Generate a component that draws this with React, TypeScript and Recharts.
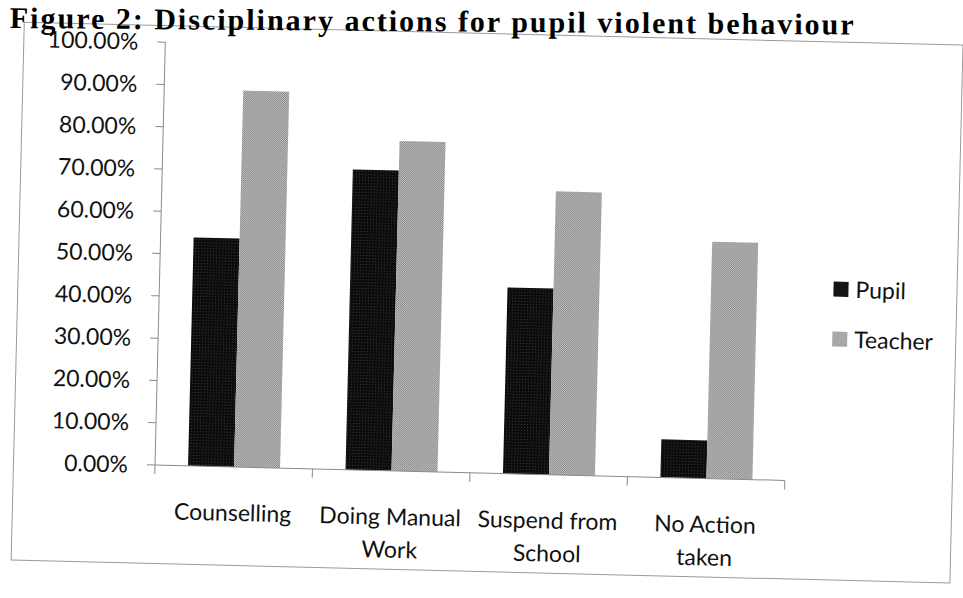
import React from 'react';
import { BarChart, Bar, XAxis, YAxis } from 'recharts';

const categories = ['Counselling', 'Doing Manual\nWork', 'Suspend from\nSchool', 'No Action\ntaken'];
const pupil = [0.54, 0.71, 0.44, 0.09];
const teacher = [0.89, 0.78, 0.67, 0.56];
const yTicks = [0, 0.1, 0.2, 0.3, 0.4, 0.5, 0.6, 0.7, 0.8, 0.9, 1.0];
const seriesNames = ['Pupil', 'Teacher'];
const title = 'Figure 2: Disciplinary actions for pupil violent behaviour';

const data = categories.map((c, i) => ({ name: c, pupil: pupil[i], teacher: teacher[i] }));

const W = 963;
const H = 598;
const M = { top: 42, right: 178, bottom: 33, left: 0 };
const Y_W = 155;
const X_H = 100;
const PLOT_BOTTOM = H - M.bottom - X_H;
const BAND = (W - M.right - M.left - Y_W) / categories.length;
const FONT = 'Lato, "Open Sans", sans-serif';

const CategoryTick = (props: any) => {
  const { x, payload, index } = props;
  const lines = String(payload.value).split('\n');
  const half = BAND / 2;
  return (
    <g>
      <line x1={x - half} x2={x - half} y1={PLOT_BOTTOM} y2={PLOT_BOTTOM + 9} stroke="#8a8a8a" />
      {index === categories.length - 1 && (
        <line x1={x + half} x2={x + half} y1={PLOT_BOTTOM} y2={PLOT_BOTTOM + 9} stroke="#8a8a8a" />
      )}
      <text textAnchor="middle" fontFamily={FONT} fontSize={23} fill="#111">
        {lines.map((l, i) => (
          <tspan key={i} x={x} y={PLOT_BOTTOM + 54 + i * 33}>{l}</tspan>
        ))}
      </text>
    </g>
  );
};

const App: React.FC = () => {
  return (
    <div style={{ position: 'absolute', left: 0, top: 0, width: W, height: H, overflow: 'hidden', background: '#fff' }}>
      <svg width={0} height={0} style={{ position: 'absolute' }}>
        <defs>
          <pattern id="pupilFill" width={3} height={3} patternUnits="userSpaceOnUse">
            <rect width={3} height={3} fill="#0c0c0c" />
            <rect x={1} y={1} width={1} height={1} fill="#3a3a3a" />
          </pattern>
          <pattern id="teacherFill" width={2} height={2} patternUnits="userSpaceOnUse">
            <rect width={2} height={2} fill="#c4c4c4" />
            <rect width={1} height={1} fill="#7e7e7e" />
            <rect x={1} y={1} width={1} height={1} fill="#8e8e8e" />
          </pattern>
        </defs>
      </svg>

      <div
        style={{
          position: 'absolute',
          left: 0,
          top: 0,
          width: W,
          height: H,
          transform: 'rotate(1.4deg)',
          transformOrigin: `${Y_W}px ${PLOT_BOTTOM}px`,
        }}
      >
        <div
          style={{
            position: 'absolute',
            left: 13,
            top: 25,
            width: 938,
            height: 537,
            border: '1px solid #9a9a9a',
          }}
        />
        <div style={{ position: 'absolute', left: 0, top: 0 }}>
          <BarChart width={W} height={H} data={data} margin={M} barCategoryGap="21%" barGap={0}>
            <XAxis
              dataKey="name"
              height={X_H}
              interval={0}
              tickLine={false}
              axisLine={{ stroke: '#8a8a8a' }}
              tick={<CategoryTick />}
            />
            <YAxis
              width={Y_W}
              domain={[0, 1]}
              ticks={yTicks}
              interval={0}
              tickSize={8}
              tickMargin={19}
              tickLine={{ stroke: '#8a8a8a' }}
              axisLine={{ stroke: '#8a8a8a' }}
              tick={{ fontFamily: FONT, fontSize: 23, fill: '#111' }}
              tickFormatter={(v: number) => (v * 100).toFixed(2) + '%'}
            />
            <Bar dataKey="pupil" name={seriesNames[0]} fill="url(#pupilFill)" isAnimationActive={false} />
            <Bar dataKey="teacher" name={seriesNames[1]} fill="url(#teacherFill)" isAnimationActive={false} />
          </BarChart>
        </div>

        <div style={{ position: 'absolute', left: 829, top: 257, fontFamily: FONT, fontSize: 23, color: '#111' }}>
          {seriesNames.map((n, i) => (
            <div key={n} style={{ display: 'flex', alignItems: 'center', height: 30, marginBottom: 20 }}>
              <span
                style={{
                  display: 'inline-block',
                  width: 15,
                  height: 15,
                  marginRight: 7,
                  background: i === 0 ? '#151515' : '#a8a8a8',
                }}
              />
              <span>{n}</span>
            </div>
          ))}
        </div>
      </div>

      <div
        style={{
          position: 'absolute',
          left: 10,
          top: 1,
          whiteSpace: 'nowrap',
          fontFamily: '"Liberation Serif", "Times New Roman", serif',
          fontWeight: 'bold',
          fontSize: 30,
          letterSpacing: 2,
          lineHeight: 'normal',
          color: '#000',
          transform: 'rotate(0.45deg)',
          transformOrigin: '0 0',
        }}
      >
        {title}
      </div>
    </div>
  );
};

export default App;
